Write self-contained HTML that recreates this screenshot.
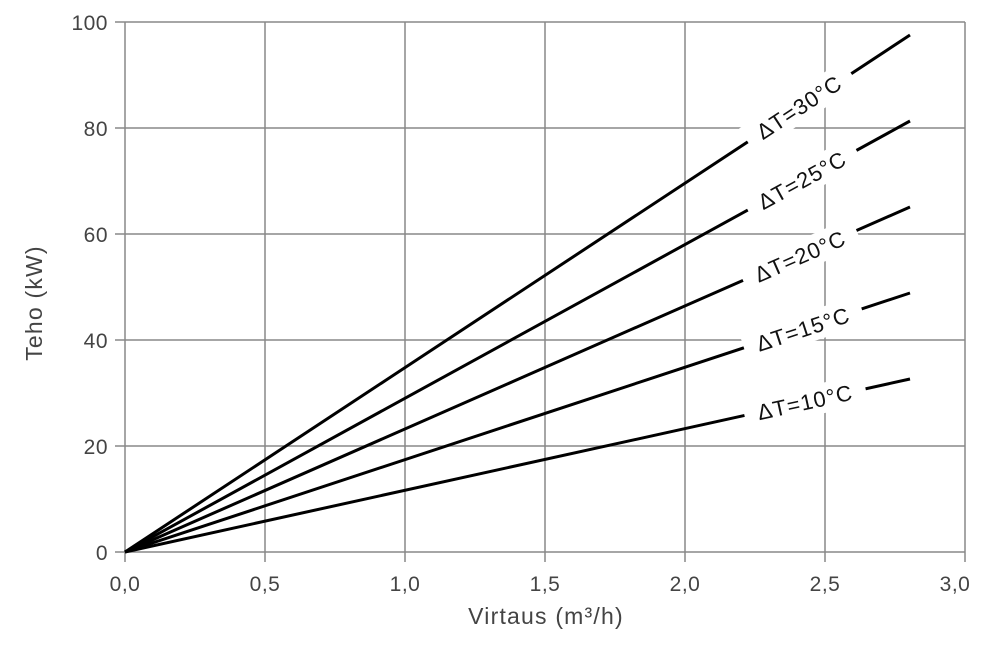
<!DOCTYPE html>
<html><head><style>body{margin:0;background:#fff}</style></head><body>
<svg width="1000" height="654" xmlns="http://www.w3.org/2000/svg" font-family="Liberation Sans, sans-serif">
<rect width="1000" height="654" fill="#fff"/>
<g stroke="#888" stroke-width="1.5">
<line x1="125" y1="22" x2="965" y2="22"/><line x1="125" y1="128" x2="965" y2="128"/><line x1="125" y1="234" x2="965" y2="234"/><line x1="125" y1="340" x2="965" y2="340"/><line x1="125" y1="446" x2="965" y2="446"/><line x1="115" y1="552" x2="965" y2="552"/>
<line x1="125" y1="22" x2="125" y2="562"/><line x1="265" y1="22" x2="265" y2="562"/><line x1="405" y1="22" x2="405" y2="562"/><line x1="545" y1="22" x2="545" y2="562"/><line x1="685" y1="22" x2="685" y2="562"/><line x1="825" y1="22" x2="825" y2="562"/><line x1="965" y1="22" x2="965" y2="562"/>
<line x1="115" y1="22" x2="125" y2="22"/><line x1="115" y1="128" x2="125" y2="128"/><line x1="115" y1="234" x2="125" y2="234"/><line x1="115" y1="340" x2="125" y2="340"/><line x1="115" y1="446" x2="125" y2="446"/>
</g>
<g stroke="#000" stroke-width="3">
<line x1="125" y1="552" x2="910" y2="35"/><line x1="125" y1="552" x2="910" y2="121"/><line x1="125" y1="552" x2="910" y2="207"/><line x1="125" y1="552" x2="910" y2="293"/><line x1="125" y1="552" x2="910" y2="379"/>
</g>
<g font-size="22" fill="#111" text-anchor="middle" letter-spacing="1">
<g transform="translate(799,107) rotate(-33.4)"><rect x="-62" y="-15" width="124" height="30" fill="#fff"/><text y="8">ΔT=30°C</text></g>
<g transform="translate(802,180) rotate(-28.8)"><rect x="-62" y="-15" width="124" height="30" fill="#fff"/><text y="8">ΔT=25°C</text></g>
<g transform="translate(800,256) rotate(-23.7)"><rect x="-62" y="-15" width="124" height="30" fill="#fff"/><text y="8">ΔT=20°C</text></g>
<g transform="translate(803,329) rotate(-18.3)"><rect x="-62" y="-15" width="124" height="30" fill="#fff"/><text y="8">ΔT=15°C</text></g>
<g transform="translate(805,402) rotate(-12.4)"><rect x="-62" y="-15" width="124" height="30" fill="#fff"/><text y="8">ΔT=10°C</text></g>
</g>
<g font-size="21" fill="#444" text-anchor="end" letter-spacing="0.5">
<text x="108" y="30">100</text><text x="108" y="136">80</text><text x="108" y="242">60</text><text x="108" y="348">40</text><text x="108" y="454">20</text><text x="108" y="560">0</text>
</g>
<g font-size="21" fill="#444" text-anchor="middle" letter-spacing="0.5">
<text x="125" y="591">0,0</text><text x="265" y="591">0,5</text><text x="405" y="591">1,0</text><text x="545" y="591">1,5</text><text x="685" y="591">2,0</text><text x="825" y="591">2,5</text><text x="955" y="591">3,0</text>
</g>
<g font-size="23" fill="#444" text-anchor="middle" letter-spacing="1.2">
<text x="546" y="624">Virtaus (m³/h)</text>
<text transform="translate(42,303) rotate(-90)">Teho (kW)</text>
</g>
</svg>
</body></html>
